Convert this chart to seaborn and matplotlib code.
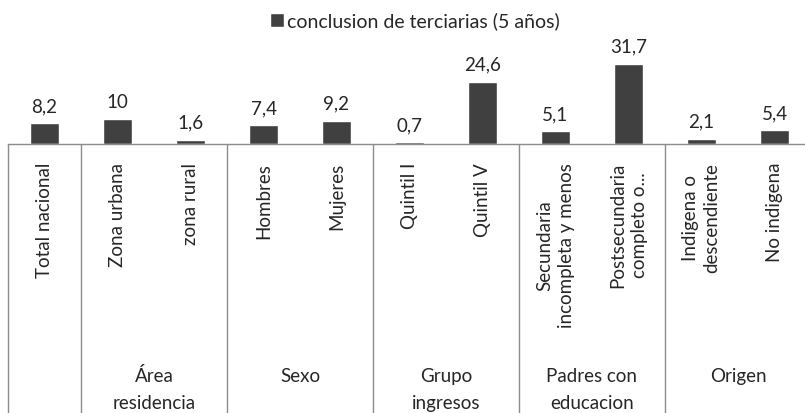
import numpy as np
import pandas as pd
import matplotlib
matplotlib.use("Agg")
import matplotlib.pyplot as plt
import matplotlib.transforms as mtrans
import seaborn as sns

# --- data ---
categories = ["Total nacional", "Zona urbana", "zona rural", "Hombres", "Mujeres",
              "Quintil I", "Quintil V", "Secundaria\nincompleta y menos",
              "Postsecundaria\ncompleto o...", "Indigena o\ndescendiente", "No indigena"]
values = [8.2, 10, 1.6, 7.4, 9.2, 0.7, 24.6, 5.1, 31.7, 2.1, 5.4]
groups = ["", "Área\nresidencia", "Sexo", "Grupo\ningresos", "Padres con\neducacion", "Origen"]
group_sizes = [1, 2, 2, 2, 2, 2]
series_name = "conclusion de terciarias (5 años)"

df = pd.DataFrame({"cat": categories, "val": values})

sns.set_theme(style="white")
plt.rcParams["font.family"] = ["Lato", "DejaVu Sans"]

fig = plt.figure(figsize=(8.05, 4.13), dpi=100)
W, H = 805, 413
x0, x1 = 8, 811
base = 144
ymax = 36
px_per_unit = 2.53
top = base - ymax * px_per_unit
ax_h = base - top
ax = fig.add_axes([x0 / W, 1 - base / H, (x1 - x0) / W, ax_h / H])

bar_color = "#404040"
sns.barplot(data=df, x="cat", y="val", color=bar_color, width=0.39, ax=ax, saturation=1)
ax.set_xlim(-0.5, len(categories) - 0.5)
ax.set_ylim(0, ymax)
ax.set_xlabel("")
ax.set_ylabel("")
ax.set_xticks([])
ax.set_yticks([])
for s in ["top", "left", "right"]:
    ax.spines[s].set_visible(False)
ax.spines["bottom"].set_color("#8c8c8c")
ax.spines["bottom"].set_linewidth(1)

text_color = "#262626"

# value labels
for i, v in enumerate(values):
    ax.annotate(f"{v:g}".replace(".", ","), (i, v), xytext=(0, 8), textcoords="offset points",
                ha="center", va="baseline", fontsize=13.5, color=text_color)

# category labels, rotated
trans = mtrans.blended_transform_factory(ax.transData, ax.transAxes)
for i, c in enumerate(categories):
    ax.text(i, -19 / ax_h, c, rotation=90, ha="center", va="top", fontsize=13.5,
            color=text_color, transform=trans, linespacing=1.3)

# group separators and labels
bottom_frac = -(H - base) / ax_h
edge = -0.5
for g, n in zip(groups, group_sizes):
    ax.plot([edge, edge], [0, bottom_frac], color="#8c8c8c", lw=1,
            transform=trans, clip_on=False)
    for k, line in enumerate(g.split("\n") if g else []):
        ax.text(edge + n / 2, -(382 + 27 * k - base) / ax_h, line, ha="center",
                va="baseline", fontsize=13.5, color=text_color, transform=trans)
    edge += n
ax.plot([edge, edge], [0, bottom_frac], color="#8c8c8c", lw=1,
        transform=trans, clip_on=False)

# legend
fig.legend([ax.patches[0]], [series_name], loc="center",
           bbox_to_anchor=(415 / W, 1 - 21 / H), frameon=False, fontsize=14,
           handlelength=0.7, handleheight=0.7, handletextpad=0.15,
           labelcolor=text_color)

fig.savefig("out.png", dpi=100)
